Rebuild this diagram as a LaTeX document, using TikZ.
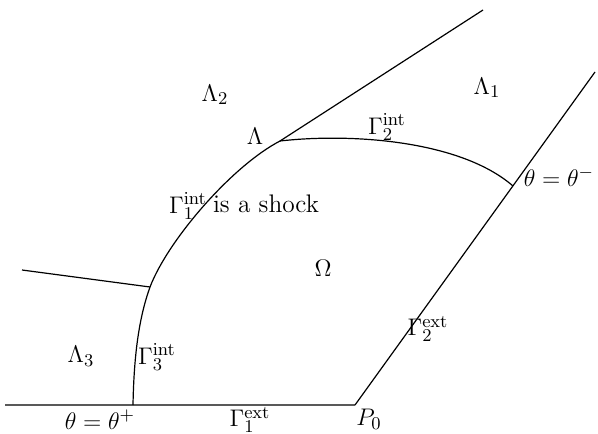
\documentclass[tikz,border=0pt]{standalone}
\begin{document}
\begin{tikzpicture}[x=0.5pt,y=-0.5pt,
  edge/.style={line width=0.6pt,black},
  base/.style={line width=1pt,black!65},
  lbl/.style={inner sep=0pt,font=\fontsize{12.7}{15}\selectfont}]
\useasboundingbox (0,0) rectangle (598,433);
% points
\coordinate (L) at (5,405);
\coordinate (P0) at (355,405);
\coordinate (A) at (133,405);
\coordinate (B) at (150,287);
\coordinate (W) at (22,270);
\coordinate (Lam) at (280,141);
\coordinate (T) at (483,10);
\coordinate (C) at (513,186);
\coordinate (R) at (595,72);
% lines
\draw[base] (L) -- (P0);
\draw[edge] (P0) -- (R);
\draw[edge] (W) -- (B);
\draw[edge] (Lam) -- (T);
\draw[edge] (A) .. controls (134,350) and (140,315) .. (B);
\draw[edge] (B) .. controls (168,240) and (232,166) .. (Lam);
\draw[edge] (Lam) .. controls (350,133) and (460,140) .. (C);
% labels
\node[lbl] (l2) at (215,95) {$\Lambda_2$};
\node[lbl] (l1) at (487,88) {$\Lambda_1$};
\node[lbl] (l) at (255,136) {$\Lambda$};
\node[lbl] (g2i) at (387,127) {$\Gamma_2^{\mathrm{int}}$};
\node[lbl] (thm) at (559,177) {$\theta=\theta^-$};
\node[lbl] (g1i) at (188,206) {$\Gamma_1^{\mathrm{int}}$};
\node[lbl] (shock) at (266,204) {is a shock};
\node[lbl] (om) at (323,268) {$\Omega$};
\node[lbl] (g2e) at (428,329) {$\Gamma_2^{\mathrm{ext}}$};
\node[lbl] (l3) at (81,356) {$\Lambda_3$};
\node[lbl] (g3i) at (157,357) {$\Gamma_3^{\mathrm{int}}$};
\node[lbl] (thp) at (100,420) {$\theta=\theta^+$};
\node[lbl] (g1e) at (250,420) {$\Gamma_1^{\mathrm{ext}}$};
\node[lbl] (p0) at (369,419) {$P_0$};
\end{tikzpicture}
\end{document}
